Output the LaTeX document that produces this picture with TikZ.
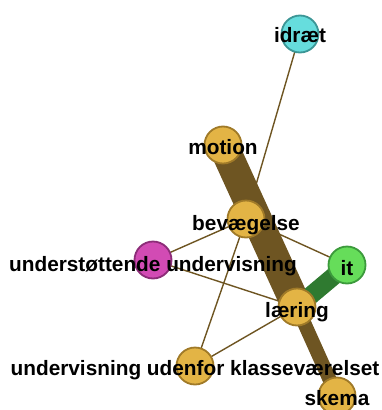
\documentclass[tikz,border=0pt]{standalone}
\usepackage{fontspec}
\setmainfont{Liberation Sans}
\usetikzlibrary{backgrounds}
\definecolor{goldfill}{RGB}{227,180,69}
\definecolor{golddraw}{RGB}{160,122,40}
\definecolor{cyanfill}{RGB}{102,221,221}
\definecolor{cyandraw}{RGB}{60,150,150}
\definecolor{magfill}{RGB}{210,75,180}
\definecolor{magdraw}{RGB}{140,45,120}
\definecolor{grnfill}{RGB}{102,221,90}
\definecolor{grndraw}{RGB}{60,154,60}
\definecolor{edgebrown}{RGB}{110,85,34}
\definecolor{edgegreen}{RGB}{47,122,48}
\tikzset{
  vert/.style={circle, minimum size=37pt, inner sep=0pt, line width=1.8pt},
  goldv/.style={vert, fill=goldfill, draw=golddraw},
  cyanv/.style={vert, fill=cyanfill, draw=cyandraw},
  magv/.style={vert, fill=magfill, draw=magdraw},
  grnv/.style={vert, fill=grnfill, draw=grndraw},
  lab/.style={anchor=base, inner sep=0pt, font=\fontsize{20.8}{24}\selectfont\bfseries, text=black},
  thin/.style={draw=edgebrown, line width=1.4pt},
}
\begin{document}
\begin{tikzpicture}[x=1pt,y=-1pt]
\useasboundingbox (0,0) rectangle (382,410);
\node[cyanv] (idr) at (300,34) {};
\node[goldv] (mot) at (223,145) {};
\node[goldv] (bev) at (246,219) {};
\node[magv] (und) at (153,260) {};
\node[grnv] (it) at (347,265) {};
\node[goldv] (ler) at (297,307) {};
\node[goldv] (udk) at (195,366) {};
\node[goldv] (ske) at (337,396) {};
\begin{scope}[on background layer]
\draw[draw=edgebrown, line width=30pt] (mot.center) -- (ler.center);
\draw[draw=edgebrown, line width=14pt] (ler.center) -- (ske.center);
\draw[draw=edgegreen, line width=18pt] (it.center) -- (ler.center);
\draw[thin] (idr.center) -- (bev.center);
\draw[thin] (bev.center) -- (und.center);
\draw[thin] (bev.center) -- (it.center);
\draw[thin] (bev.center) -- (udk.center);
\draw[thin] (und.center) -- (ler.center);
\draw[thin] (ler.center) -- (udk.center);
\end{scope}
\node[lab] (idrl) at ([yshift=-8pt]idr.center) {idræt};
\node[lab] (motl) at ([yshift=-9.5pt]mot.center) {motion};
\node[lab] (bevl) at ([yshift=-11pt]bev.center) {bevægelse};
\node[lab] (undl) at ([yshift=-11pt]und.center) {understøttende undervisning};
\node[lab] (itl) at ([yshift=-10pt]it.center) {it};
\node[lab] (lerl) at ([yshift=-10pt]ler.center) {læring};
\node[lab] (udkl) at ([yshift=-9pt]udk.center) {undervisning udenfor klasseværelset};
\node[lab] (skel) at ([yshift=-9pt]ske.center) {skema};
\end{tikzpicture}
\end{document}
